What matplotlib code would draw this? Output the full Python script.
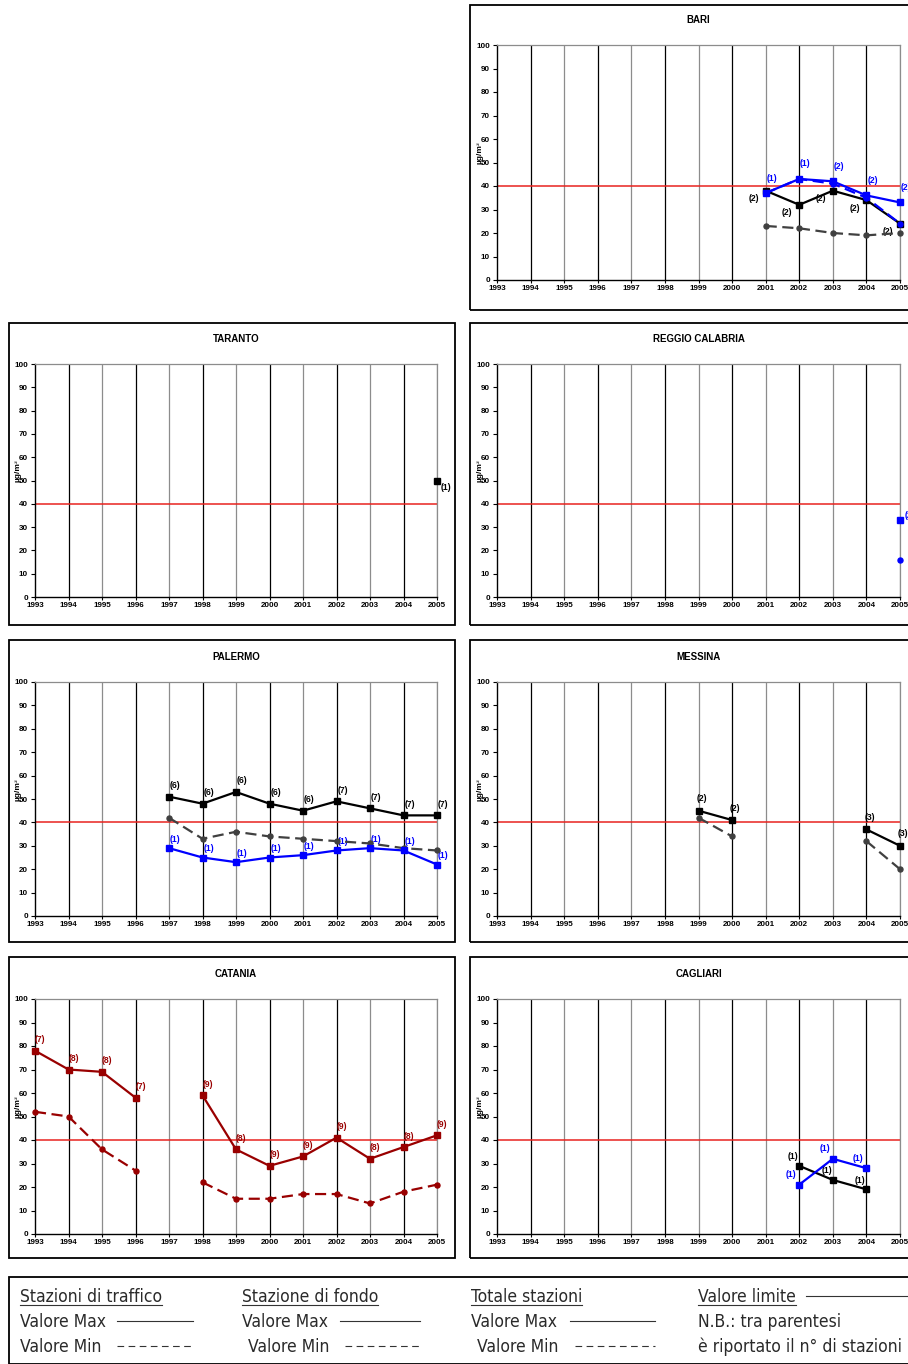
import numpy as np
import matplotlib
matplotlib.use('Agg')
import matplotlib.pyplot as plt
from matplotlib import font_manager
from matplotlib.patches import Rectangle
from matplotlib.lines import Line2D

plt.rcParams['font.family'] = ['Liberation Sans', 'DejaVu Sans']

# dati (µg/m3), valori
anni = list(range(1993, 2006))
nan = np.nan

bari_anni = [2001, 2002, 2003, 2004, 2005]
bari_traffico_max = [38, 32, 38, 34, 24]
bari_traffico_min = [23, 22, 20, 19, 20]
bari_traffico_n = ['(2)', '(2)', '(2)', '(2)', '(2)']
bari_fondo_max = [37, 43, 42, 36, 33]
bari_fondo_min = [37, 43, 41, 35, 24]
bari_fondo_n = ['(1)', '(1)', '(2)', '(2)', '(2)']

taranto_anni = [2005]
taranto_traffico_max = [50]
taranto_traffico_n = ['(1)']

reggio_anni = [2005]
reggio_fondo_max = [33]
reggio_fondo_min = [16]
reggio_fondo_n = ['(2']

palermo_anni = [1997, 1998, 1999, 2000, 2001, 2002, 2003, 2004, 2005]
palermo_traffico_max = [51, 48, 53, 48, 45, 49, 46, 43, 43]
palermo_traffico_min = [42, 33, 36, 34, 33, 32, 31, 29, 28]
palermo_traffico_n = ['(6)', '(6)', '(6)', '(6)', '(6)', '(7)', '(7)', '(7)', '(7)']
palermo_fondo_max = [29, 25, 23, 25, 26, 28, 29, 28, 22]
palermo_fondo_n = ['(1)'] * 9

messina_anni = [1999, 2000, 2001, 2002, 2003, 2004, 2005]
messina_traffico_max = [45, 41, nan, nan, nan, 37, 30]
messina_traffico_min = [42, 34, nan, nan, nan, 32, 20]
messina_traffico_n = ['(2)', '(2)', '', '', '', '(3)', '(3)']

catania_anni = anni
catania_totale_max = [78, 70, 69, 58, nan, 59, 36, 29, 33, 41, 32, 37, 42]
catania_totale_min = [52, 50, 36, 27, nan, 22, 15, 15, 17, 17, 13, 18, 21]
catania_totale_n = ['(7)', '(8)', '(8)', '(7)', '', '(9)', '(8)', '(9)', '(9)', '(9)', '(8)', '(8)', '(9)']

cagliari_anni = [2002, 2003, 2004]
cagliari_traffico_max = [29, 23, 19]
cagliari_traffico_n = ['(1)', '(1)', '(1)']
cagliari_fondo_max = [21, 32, 28]
cagliari_fondo_n = ['(1)', '(1)', '(1)']

valore_limite = 40

# colori
NERO = '#000000'
GRIGIO = '#404040'
BLU = '#0000ff'
ROSSO_SCURO = '#990000'
ROSSO = '#e8231f'

W, H = 908, 1364
fig = plt.figure(figsize=(W / 100, H / 100), dpi=100)


def rect_px(x0, y0, x1, y1):
    return [x0 / W, 1 - y1 / H, (x1 - x0) / W, (y1 - y0) / H]


col_x = [(35, 437), (497, 900)]
row_y = [(45, 280), (364, 597), (682, 916), (999, 1234)]
box_x = [(9, 455), (470, 918)]
box_y = [(5, 310), (323, 625), (640, 942), (957, 1258)]


def serie(ax, x, y, col, marker, ls, etichette=None, off=(5, 10)):
    ms = 4.6 if marker == 's' else 3.6
    ax.plot(x, y, color=col, lw=1.6, ls=ls, marker=marker, ms=ms,
            mec=col, mfc=col, clip_on=False, zorder=4)
    if etichette:
        for xi, yi, t in zip(x, y, etichette):
            if t and not np.isnan(yi):
                ax.annotate(t, (xi, yi), xytext=off, textcoords='offset pixels',
                            ha='center', va='center', fontsize=6.2,
                            fontweight='bold', color=col, annotation_clip=False)


def pannello(riga, colonna, titolo):
    x0, x1 = col_x[colonna]
    y0, y1 = row_y[riga]
    bx0, bx1 = box_x[colonna]
    by0, by1 = box_y[riga]
    fig.add_artist(Rectangle((bx0 / W, 1 - by1 / H), (bx1 - bx0) / W, (by1 - by0) / H,
                             transform=fig.transFigure, fill=False, ec='black', lw=1.3))
    ax = fig.add_axes(rect_px(x0, y0, x1, y1))
    ax.set_xlim(1993, 2005)
    ax.set_ylim(0, 100)
    for a in anni[1:]:
        ax.axvline(a, color=NERO if a % 2 == 0 else '#8c8c8c', lw=0.9, zorder=1)
    ax.axhline(valore_limite, color=ROSSO, lw=1.1, zorder=2)
    for s in ['top', 'right']:
        ax.spines[s].set_color('#8c8c8c')
        ax.spines[s].set_linewidth(0.9)
    for s in ['left', 'bottom']:
        ax.spines[s].set_linewidth(1.0)
    ax.set_xticks(anni)
    ax.set_xticklabels([str(a) for a in anni], fontsize=5.8, fontweight='bold')
    ax.set_yticks(range(0, 101, 10))
    ax.set_yticklabels([str(v) for v in range(0, 101, 10)], fontsize=5.8, fontweight='bold')
    ax.tick_params(axis='y', length=3, width=0.8, pad=2)
    ax.tick_params(axis='x', length=2, width=0.8, pad=1.5)
    ax.text(-0.042, 0.54, 'µg/m³', rotation=90, transform=ax.transAxes,
            ha='center', va='center', fontsize=6, fontweight='bold')
    ax.text(0.5, 1 + 25 / 235, titolo, transform=ax.transAxes, ha='center',
            va='center', fontsize=7, fontweight='bold')
    return ax


ax = pannello(0, 1, 'BARI')
serie(ax, bari_anni, bari_traffico_min, GRIGIO, 'o', (0, (5, 2.5)))
serie(ax, bari_anni, bari_traffico_max, NERO, 's', '-', bari_traffico_n, (-12, -8))
serie(ax, bari_anni, bari_fondo_min, BLU, 'o', (0, (5, 2.5)))
serie(ax, bari_anni, bari_fondo_max, BLU, 's', '-', bari_fondo_n, (6, 15))

ax = pannello(1, 0, 'TARANTO')
serie(ax, taranto_anni, taranto_traffico_max, NERO, 's', '-', taranto_traffico_n, (9, -7))

ax = pannello(1, 1, 'REGGIO CALABRIA')
serie(ax, reggio_anni, reggio_fondo_min, BLU, 'o', (0, (5, 2.5)))
serie(ax, reggio_anni, reggio_fondo_max, BLU, 's', '-', reggio_fondo_n, (8, 5))

ax = pannello(2, 0, 'PALERMO')
serie(ax, palermo_anni, palermo_traffico_min, GRIGIO, 'o', (0, (5, 2.5)))
serie(ax, palermo_anni, palermo_traffico_max, NERO, 's', '-', palermo_traffico_n, (6, 11))
serie(ax, palermo_anni, palermo_fondo_max, BLU, 's', '-', palermo_fondo_n, (6, 9))

ax = pannello(2, 1, 'MESSINA')
serie(ax, messina_anni, messina_traffico_min, GRIGIO, 'o', (0, (5, 2.5)))
serie(ax, messina_anni, messina_traffico_max, NERO, 's', '-', messina_traffico_n, (3, 12))

ax = pannello(3, 0, 'CATANIA')
serie(ax, catania_anni, catania_totale_min, ROSSO_SCURO, 'o', (0, (5, 2.5)))
serie(ax, catania_anni, catania_totale_max, ROSSO_SCURO, 's', '-', catania_totale_n, (5, 11))

ax = pannello(3, 1, 'CAGLIARI')
serie(ax, cagliari_anni, cagliari_traffico_max, NERO, 's', '-', cagliari_traffico_n, (-6, 9))
serie(ax, cagliari_anni, cagliari_fondo_max, BLU, 's', '-', cagliari_fondo_n, (-8, 10))

# legenda: serve un carattere stretto
fp = font_manager.FontProperties(family='DejaVu Sans', stretch='condensed')
path = font_manager.findfont(fp)
if 'Condensed' in path:
    leg_prop = dict(family='DejaVu Sans', stretch='condensed', fontsize=12.5)
else:
    leg_prop = dict(family='Liberation Sans', fontsize=11.5)

fig.add_artist(Rectangle((9 / W, 0), (918 - 9) / W, (H - 1277) / H,
                         transform=fig.transFigure, fill=False, ec='black', lw=1.3))


def testo(x, y, t):
    return fig.text(x / W, 1 - y / H, t, ha='left', va='baseline',
                    color='#2a2a2a', **leg_prop)


def linea(x0, x1, y, ls='-'):
    fig.add_artist(Line2D([x0 / W, x1 / W], [1 - y / H, 1 - y / H], transform=fig.transFigure,
                          color='#333333', lw=0.8, ls=ls))


titoli = [(20, 'Stazioni di traffico'), (242, 'Stazione di fondo'),
          (471, 'Totale stazioni'), (698, 'Valore limite')]
sottolineati = [testo(x, 1302, t) for x, t in titoli]
testo(20, 1327, 'Valore Max')
testo(242, 1327, 'Valore Max')
testo(471, 1327, 'Valore Max')
testo(698, 1327, 'N.B.: tra parentesi')
testo(20, 1352, 'Valore Min')
testo(248, 1352, 'Valore Min')
testo(477, 1352, 'Valore Min')
testo(698, 1352, 'è riportato il n° di stazioni')
linea(806, 908, 1296)
for x0, x1 in [(117, 193), (340, 420), (570, 655)]:
    linea(x0, x1, 1321)
for x0, x1 in [(117, 193), (345, 420), (575, 655)]:
    linea(x0, x1, 1346, (0, (6, 4)))

fig.canvas.draw()
for t in sottolineati:
    bb = t.get_window_extent()
    yb = bb.y0 + 1
    fig.add_artist(Line2D([bb.x0 / W, bb.x1 / W], [yb / H, yb / H], transform=fig.transFigure,
                          color='#333333', lw=0.8))

fig.savefig('out.png', dpi=100)
